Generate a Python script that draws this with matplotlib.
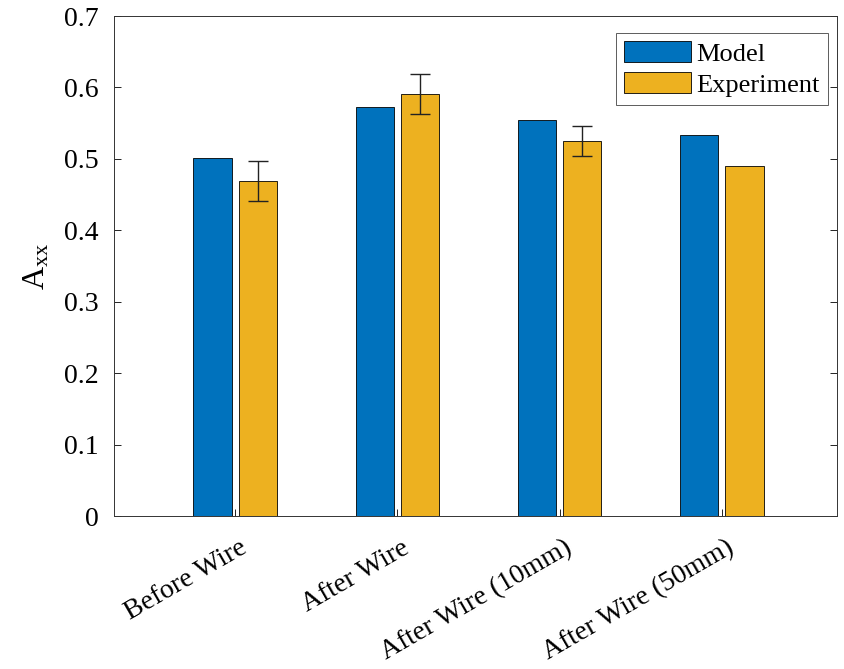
import numpy as np
import matplotlib.pyplot as plt
from matplotlib.transforms import ScaledTranslation

plt.rcParams['font.family'] = ['Liberation Serif', 'DejaVu Serif']
plt.rcParams['mathtext.fontset'] = 'custom'
plt.rcParams['mathtext.rm'] = 'Liberation Serif'
plt.rcParams['mathtext.it'] = 'Liberation Serif'

CATEGORIES = ['Before Wire', 'After Wire', 'After Wire (10mm)', 'After Wire (50mm)']
MODEL = [0.501, 0.572, 0.554, 0.533]
EXPERIMENT = [0.469, 0.591, 0.525, 0.490]
EXP_ERR = [0.028, 0.028, 0.021, np.nan]

BLUE = '#0072BD'
YELLOW = '#EDB120'

fig = plt.figure(figsize=(8.44, 6.69), dpi=100)
ax = fig.add_axes([114 / 844, 1 - 516 / 669, (837 - 114) / 844, (516 - 16) / 669])

x = np.arange(1, len(CATEGORIES) + 1)
w = 0.235
off = 0.14
ax.bar(x - off, MODEL, w, color=BLUE, edgecolor='black', linewidth=0.6, label='Model')
ax.bar(x + off, EXPERIMENT, w, color=YELLOW, edgecolor='black', linewidth=0.6, label='Experiment')
ax.errorbar(x + off, EXPERIMENT, yerr=EXP_ERR, fmt='none', ecolor='#222222',
            elinewidth=1.0, capsize=7, capthick=1.0)

ax.set_xlim(0.253, 4.71)
ax.set_ylim(0, 0.7)
ax.set_yticks(np.arange(0, 0.71, 0.1))
ax.set_yticklabels(['0', '0.1', '0.2', '0.3', '0.4', '0.5', '0.6', '0.7'])
ax.set_xticks(x)
ax.set_xticklabels(CATEGORIES, rotation=30, ha='right', va='top', rotation_mode='anchor')
ax.tick_params(direction='in', labelsize=20, top=False, right=True, length=5, width=0.6)
ax.tick_params(axis='y', pad=11)
ax.tick_params(axis='x', pad=14)
shift = ScaledTranslation(4 / 100, 0, fig.dpi_scale_trans)
for lbl in ax.get_xticklabels():
    lbl.set_transform(lbl.get_transform() + shift)
for s in ax.spines.values():
    s.set_linewidth(0.7)
    s.set_color('#333333')
ax.set_ylabel(r'A$_{\mathrm{xx}}$', fontsize=23, labelpad=9)

leg = ax.legend(loc='upper right', bbox_to_anchor=((828 - 114) / 723, (516 - 33) / 500),
                fontsize=19, fancybox=False, edgecolor='#333333', borderaxespad=0,
                handlelength=2.55, handleheight=0.85, handletextpad=0.2,
                labelspacing=0.25, borderpad=0.3)
leg.get_frame().set_linewidth(0.7)

fig.savefig('out.png', dpi=100)
